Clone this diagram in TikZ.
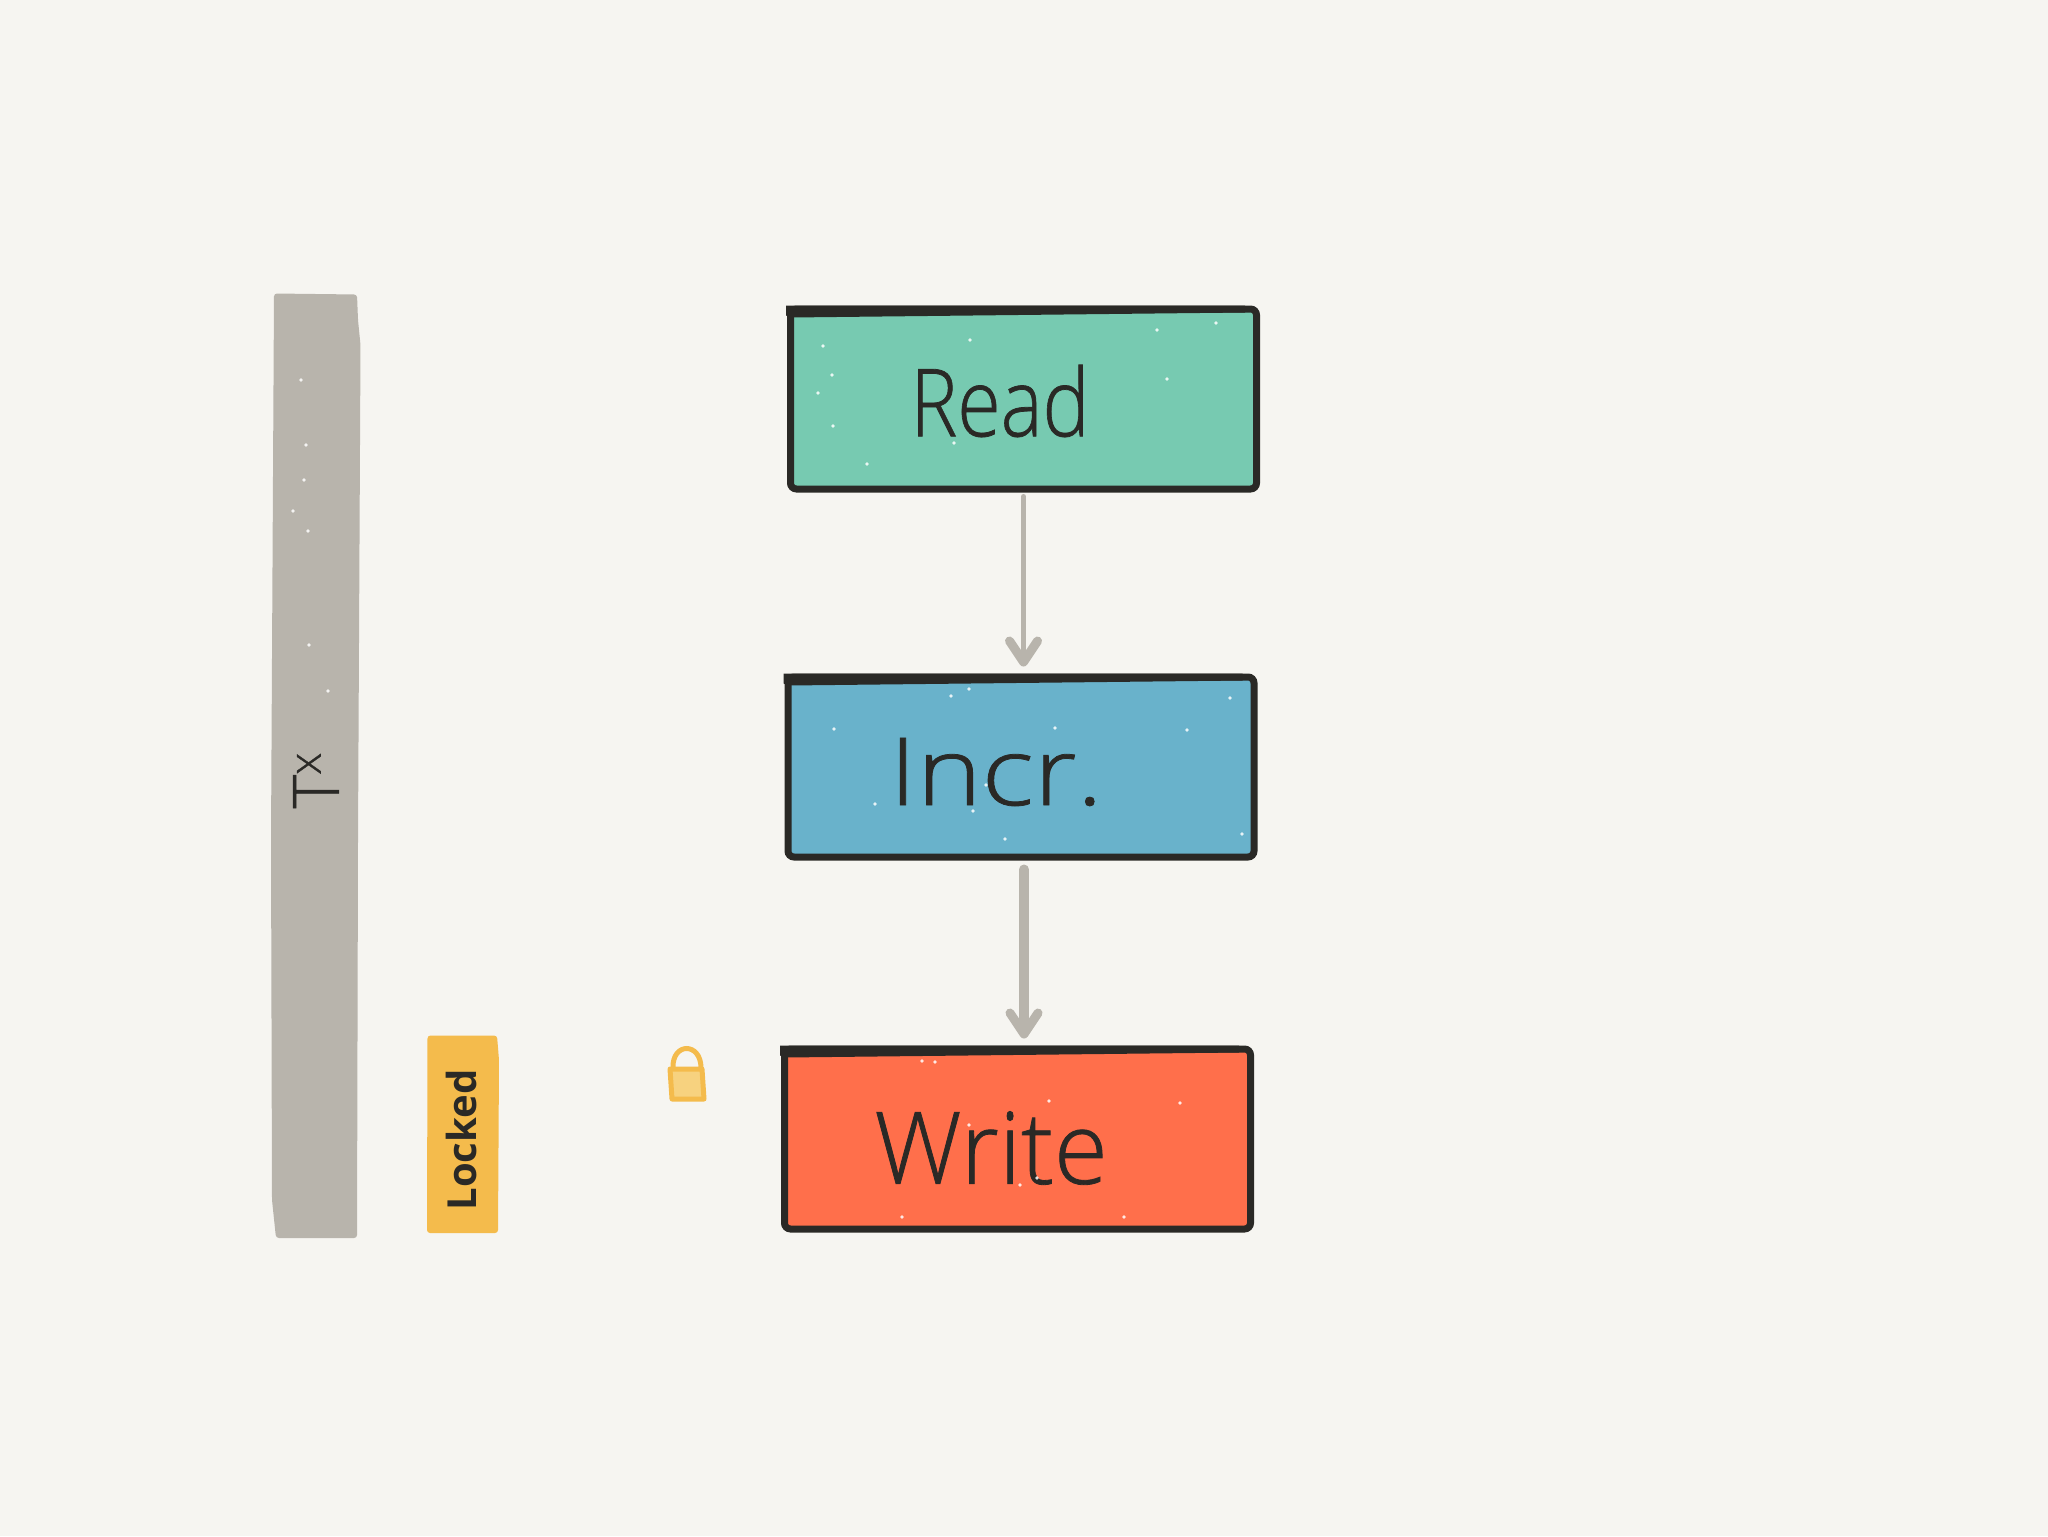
\documentclass[tikz,border=0pt]{standalone}
\usepackage{fontspec}
\usetikzlibrary{arrows.meta}
\newfontfamily\handfont[FakeBold=0.8]{Open Sans Light}
\newfontfamily\smallhandfont{Open Sans}

\definecolor{paper}{HTML}{F6F5F1}
\definecolor{ink}{HTML}{2A2926}
\definecolor{stone}{HTML}{B8B4AC}
\definecolor{amber}{HTML}{F4BB4C}
\definecolor{paleamber}{HTML}{F7D27F}
\definecolor{readgreen}{HTML}{77CAB1}
\definecolor{incrblue}{HTML}{69B2CB}
\definecolor{writered}{HTML}{FF6F4B}

\begin{document}
\begin{tikzpicture}[x=0.5pt, y=-0.5pt,
    %Boxes and connectors
    stagebox/.style={draw=ink, fill=#1, line width=3.5pt, rounded corners=3pt,
        minimum width=233pt, minimum height=90pt},
    flow/.style={stone, line cap=round, shorten >=3.5pt,
        -{Straight Barb[round,length=10.5pt,width=14pt,line width=4.5pt]}},
    hand/.style={font=\handfont\fontsize{#1}{#1}\selectfont, text=ink, inner sep=0pt, transform shape},
    speck/.style={white, opacity=0.85},
]
    % Page
    \fill[paper] (0,0) rectangle (2048,1536);
    \useasboundingbox (0,0) rectangle (2048,1536);

    % Transaction bar
    \fill[stone, rounded corners=1.5pt] (274,293.5) -- (357,294.5) -- (358,320) -- (360.5,345)
        -- (358,840) -- (357,1238) -- (276,1238) -- (272,1200) -- (271,840) -- cycle;
    \node[hand=32, rotate=90] (txlabel) at (316,780) {T\textsuperscript{x}};

    % Locked bar
    \fill[amber, rounded corners=1.5pt] (427.5,1035.5) -- (497,1035.5) -- (499,1060)
        -- (498,1233) -- (427,1233) -- cycle;
    \node[hand=20, rotate=90] (lockedlabel) at (461,1140) {\smallhandfont\fontseries{b}\selectfont Locked};

    % Padlock
    \draw[amber, line width=2.5pt, line cap=round]
        (673,1068) .. controls (672,1042) and (701,1042) .. (701,1068);
    \filldraw[draw=amber, fill=paleamber, line width=2.5pt, line join=round]
        (670,1069) -- (702,1069) -- (704,1099) -- (672,1099) -- cycle;

    % Stages
    \node[stagebox=readgreen]  (read)  at (1023.5,399) {};
    \node[stagebox=incrblue]   (incr)  at (1021,767)   {};
    \node[stagebox=writered]   (write) at (1017.5,1139) {};

    % Heavier top stroke of each box
    \foreach \stage in {read, incr, write}
        \fill[ink] ([shift={(-1,0)}]\stage.north west) -- ([shift={(458,0)}]\stage.north west)
            -- ([shift={(458,7)}]\stage.north west) -- ([shift={(4,12)}]\stage.north west)
            -- ([shift={(-1,10)}]\stage.north west) -- cycle;

    % Labels
    \node[hand=47, xscale=0.84] (readlabel)  at (1000,401)  {Read};
    \node[hand=47, xscale=1.17] (incrlabel)  at (996,772)   {Incr.};
    \node[hand=50, xscale=0.98] (writelabel) at (991,1148)  {Write};

    % Connectors
    \draw[flow, line width=2.5pt, shorten <=2pt] (read.south) -- (read.south |- incr.north);
    \draw[flow, line width=5pt, shorten <=4.5pt] ([xshift=1.5pt]incr.south) -- ([xshift=1.5pt]incr.south |- write.north);

    % Specks
    \foreach \x/\y in {823/346, 832/375, 818/393, 833/426, 867/464, 1167/379, 1216/323, 1157/330, 970/340, 954/443,
        969/689, 951/696, 834/729, 1055/728, 1187/730, 1230/698, 973/811, 1005/839, 1242/834, 875/804, 986/785,
        935/1062, 922/1061, 1180/1103, 1049/1101, 1037/1178, 902/1217, 1124/1217, 969/1125, 1020/1185,
        301/380, 306/445, 304/480, 293/511, 308/531, 309/645, 328/691}
        \fill[speck] (\x,\y) circle (0.9pt);
\end{tikzpicture}
\end{document}
